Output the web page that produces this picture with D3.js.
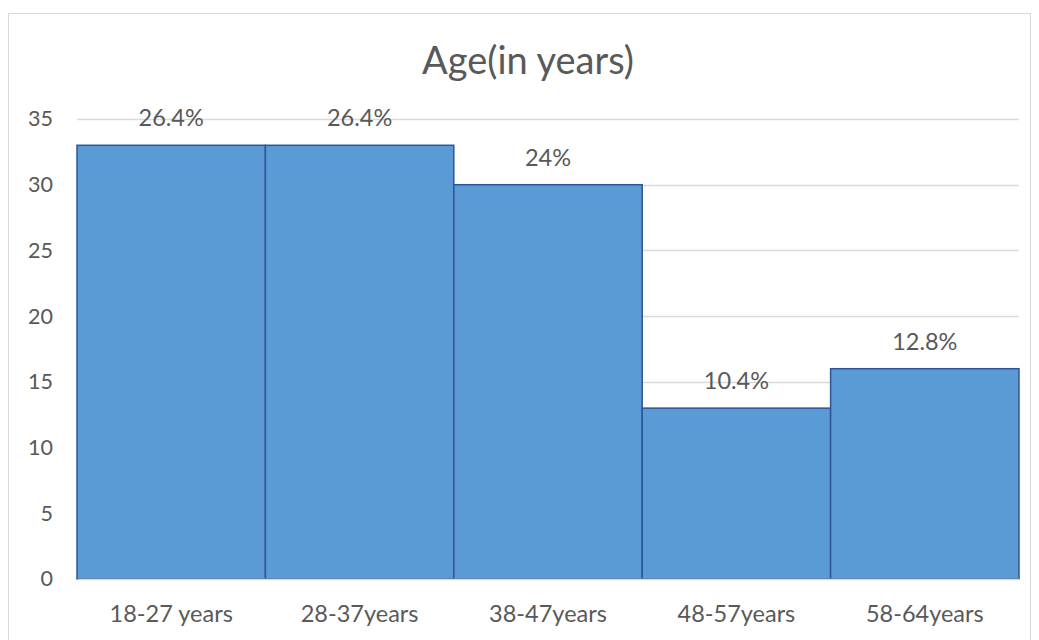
<!DOCTYPE html>
<html>
<head>
<meta charset="utf-8">
<script src="https://cdn.jsdelivr.net/npm/d3@7"></script>
<style>
  html, body { margin: 0; padding: 0; background: #fff; }
  svg { display: block; }
  text { font-family: Lato, "Open Sans", "Liberation Sans", sans-serif; fill: #595959; }
</style>
</head>
<body>
<svg id="chart" width="1039" height="640"></svg>
<script>
// Age groups and respondent counts
const categories = ["18-27 years", "28-37years", "38-47years", "48-57years", "58-64years"];
const counts = [33, 33, 30, 13, 16];
const percentLabels = ["26.4%", "26.4%", "24%", "10.4%", "12.8%"];
const yTicks = [0, 5, 10, 15, 20, 25, 30, 35];

const svg = d3.select("#chart");
const plot = { left: 77, right: 1019, top: 119, bottom: 579 };
const FONT = "Lato, 'Open Sans', sans-serif";

// Chart frame
svg.append("rect")
  .attr("x", 8.5).attr("y", 13.5)
  .attr("width", 1022).attr("height", 640)
  .attr("fill", "#fff").attr("stroke", "#d9d9d9").attr("stroke-width", 1);

const x = d3.scaleBand().domain(categories).range([plot.left, plot.right]).padding(0);
const y = d3.scaleLinear().domain([0, 35]).range([plot.bottom, plot.top]);

// Horizontal gridlines
svg.append("g")
  .selectAll("line").data(yTicks.filter(t => t > 0)).join("line")
  .attr("x1", plot.left).attr("x2", plot.right)
  .attr("y1", d => Math.round(y(d)) + 0.5).attr("y2", d => Math.round(y(d)) + 0.5)
  .attr("stroke", "#d9d9d9").attr("stroke-width", 1.3);

// Y axis labels
const yAxis = d3.axisLeft(y).tickValues(yTicks).tickSize(0).tickPadding(0);
const gy = svg.append("g").attr("transform", "translate(53,0)").call(yAxis);
gy.select(".domain").remove();
gy.selectAll("text").attr("font-size", 21.5).attr("fill", "#595959")
  .style("font-family", FONT);

// Bars
svg.append("g")
  .selectAll("rect").data(categories).join("rect")
  .attr("x", d => x(d))
  .attr("y", (d, i) => y(counts[i]))
  .attr("width", x.bandwidth())
  .attr("height", (d, i) => y(0) - y(counts[i]))
  .attr("fill", "#5b9bd5")
  .attr("stroke", "#2f5597")
  .attr("stroke-width", 1.5);

// Category axis baseline and labels
const xAxis = d3.axisBottom(x).tickSize(0).tickPadding(0);
const gx = svg.append("g").attr("transform", `translate(0,${plot.bottom})`).call(xAxis);
gx.select(".domain").attr("stroke", "#d9d9d9").attr("stroke-width", 1.5);
gx.selectAll("text").attr("font-size", 23.5).attr("fill", "#595959")
  .attr("dy", 0).attr("y", 43)
  .style("font-family", FONT);

// Percentage labels above bars
svg.append("g")
  .selectAll("text").data(categories).join("text")
  .attr("x", d => x(d) + x.bandwidth() / 2)
  .attr("y", (d, i) => y(counts[i]) - 19)
  .attr("text-anchor", "middle")
  .attr("font-size", 23.5)
  .text((d, i) => percentLabels[i]);

// Title
svg.append("text")
  .attr("x", 528).attr("y", 74)
  .attr("text-anchor", "middle")
  .attr("font-size", 38)
  .text("Age(in years)");
</script>
</body>
</html>
